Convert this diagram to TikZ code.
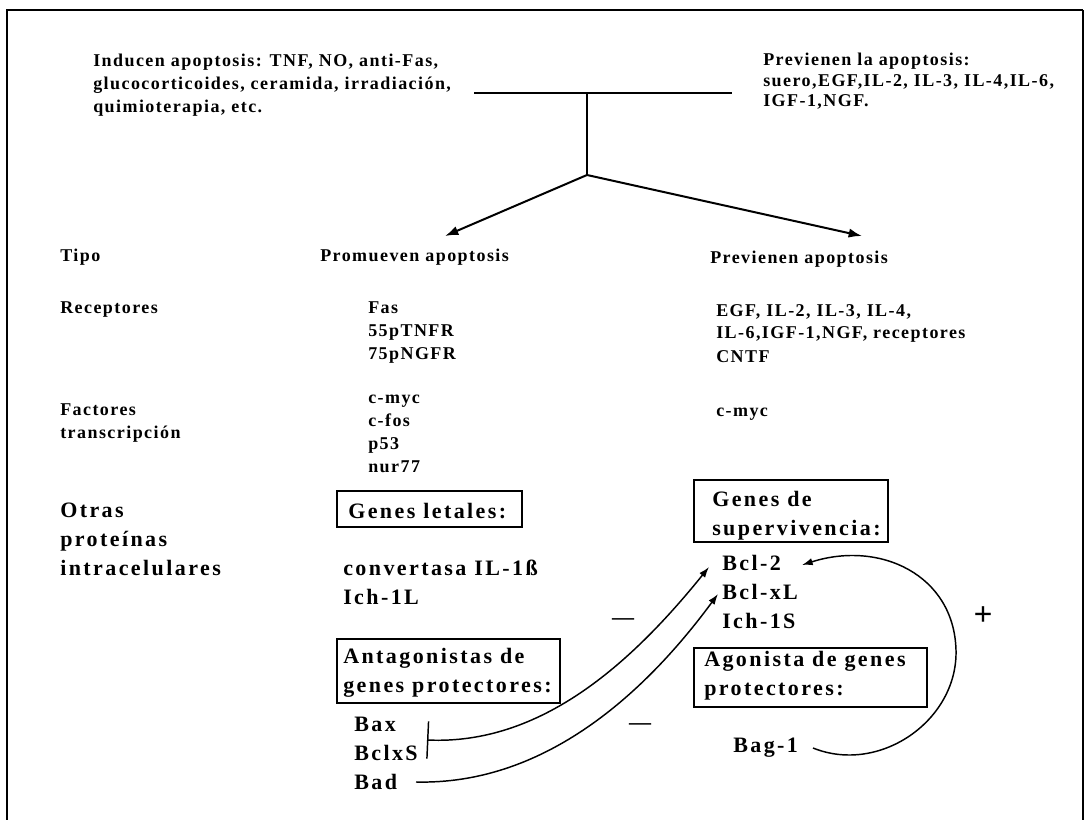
\documentclass[tikz,border=0pt]{standalone}
\usepackage{fontspec}
\newfontfamily\smallfam{Liberation Serif}[LetterSpace=8]
\newfontfamily\bigfam{Liberation Serif}[LetterSpace=11]
\usetikzlibrary{arrows.meta,fit}

\begin{document}
\begin{tikzpicture}[
  x=0.75pt, y=-0.75pt,
  txt/.style={anchor=base west, inner sep=0pt, align=left, font=\smallfam\fontsize{13.5}{17.25}\selectfont\bfseries},
  bigtxt/.style={anchor=base west, inner sep=0pt, align=left, font=\bigfam\fontsize{16.5}{21.4}\selectfont\bfseries},
  sign/.style={inner sep=0pt, font=\bigfam\fontsize{16.5}{21.4}\selectfont\bfseries},
  gbox/.style={draw, line width=1.3pt, inner sep=0pt},
  flow/.style={-{Latex[length=10pt,width=7pt]}, line width=1.5pt},
  act/.style={-{Latex[length=8pt,width=5.5pt]}, line width=1.1pt},
  inhib/.style={{Bar[width=28pt]}-{Latex[length=8pt,width=5.5pt]}, line width=1.1pt}
]
\useasboundingbox (0,0) rectangle (1086,820);
% frame
\draw[line width=2.2pt] (7,820) -- (7,10) -- (1083,10);
\draw[line width=1.3pt] (1083,10) -- (1083,820);

% stimuli (nodes sit on the baseline of their last line)
\node[txt] (induc) at (93,113) {Inducen apoptosis: TNF, NO, anti-Fas,\\glucocorticoides, ceramida, irradiación,\\quimioterapia, etc.};
\node[txt, font=\smallfam\fontsize{13.5}{15.6}\selectfont\bfseries] (prevt) at (763,107) {Previenen la apoptosis:\\suero,EGF,IL-2, IL-3, IL-4,IL-6,\\IGF-1,NGF.};
\coordinate (hl) at (474,93);
\coordinate (hr) at (732,93);
\coordinate (hm) at (587,93);
\coordinate (jn) at (587,175);
\coordinate (tipL) at (445,236);
\coordinate (tipR) at (862,236);
\draw[line width=1.5pt] (hl) -- (hr);
\draw[line width=1.5pt] (hm) -- (jn);
\draw[flow] (jn) -- (tipL);
\draw[flow] (jn) -- (tipR);

% table rows
\node[txt] (tipo) at (60,262) {Tipo};
\node[txt] (prom) at (320,262) {Promueven apoptosis};
\node[txt] (prevap) at (710,263) {Previenen apoptosis};
\node[txt] (recep) at (60,313) {Receptores};
\node[txt] (recpro) at (368,359) {Fas\\55pTNFR\\75pNGFR};
\node[txt] (recprev) at (716,362) {EGF, IL-2, IL-3, IL-4,\\IL-6,IGF-1,NGF, receptores\\CNTF};
\node[txt] (factor) at (60,438) {Factores\\transcripción};
\node[txt] (tfpro) at (368,472) {c-myc\\c-fos\\p53\\nur77};
\node[txt] (tfprev) at (716,416) {c-myc};
\node[bigtxt] (otras) at (60,575) {Otras\\proteínas\\intracelulares};

% genes
\node[bigtxt] (letal) at (348,518) {Genes letales:};
\node[gbox, fit={(337,491) (522,527)}] (letalbox) {};
\node[bigtxt] (superv) at (712,535) {Genes de\\supervivencia:};
\node[gbox, fit={(694,480) (888,542)}] (supervbox) {};
\node[bigtxt] (conv) at (343,604) {convertasa IL-1ß\\Ich-1L};
\node[bigtxt] (bcl) at (722,628) {Bcl-2\\Bcl-xL\\Ich-1S};
\node[bigtxt] (anta) at (343,692) {Antagonistas de\\genes protectores:};
\node[gbox, fit={(337,639) (560,703)}] (antabox) {};
\node[bigtxt] (agon) at (704,695) {Agonista de genes\\protectores:};
\node[gbox, fit={(694,648) (927,707)}] (agonbox) {};
\node[bigtxt] (bax) at (354,789) {Bax\\BclxS\\Bad};
\node[bigtxt] (bag) at (733,752) {Bag-1};
\node[sign] (minA) at (623,622) {—};
\node[sign] (minB) at (640,727) {—};
\node[sign, font=\bigfam\fontsize{25}{30}\selectfont\bfseries] (plus) at (983,616) {+};

% regulation
\coordinate (barpt) at (427,740);
\coordinate (badpt) at (416,782);
\coordinate (bagpt) at (813,748);
\coordinate (to2) at (709,567);
\coordinate (toxl) at (718,594);
\coordinate (tobag) at (802,565);
\draw[inhib] (barpt) .. controls (540,745) and (630,665) .. (to2);
\draw[act] (badpt) .. controls (540,785) and (640,700) .. (toxl);
\draw[act] (bagpt) .. controls (880,775) and (958,720) .. (956,650)
  .. controls (954,575) and (880,540) .. (tobag);
\end{tikzpicture}
\end{document}
